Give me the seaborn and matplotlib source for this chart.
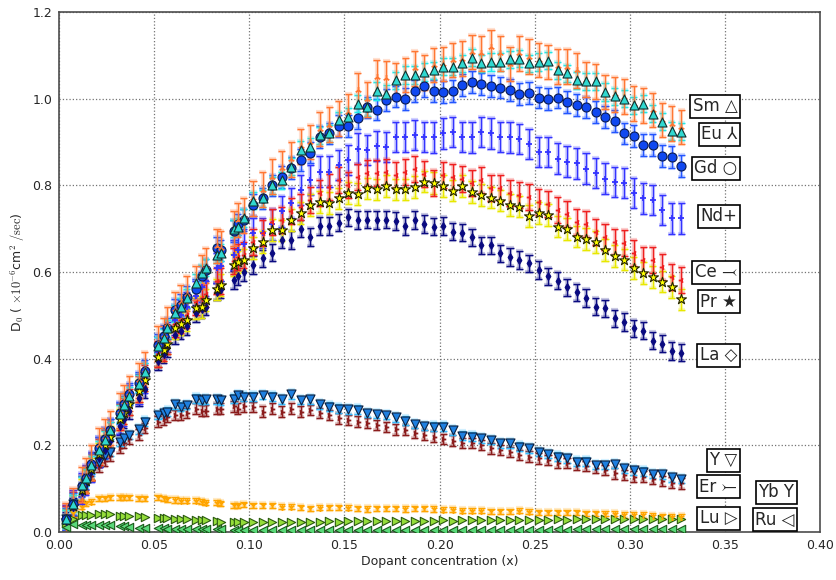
import matplotlib
matplotlib.use("Agg")
import matplotlib.pyplot as plt
import matplotlib.patheffects as pe
import seaborn as sns
import pandas as pd

# ---------------- data ----------------
x_conc = [0.0035, 0.0073, 0.012, 0.014, 0.017, 0.021, 0.024, 0.027, 0.032, 0.034,
          0.037, 0.042, 0.045, 0.052, 0.055, 0.057, 0.061, 0.064, 0.067, 0.072,
          0.075, 0.077, 0.083, 0.085, 0.092, 0.094, 0.097,
          0.102, 0.107, 0.112, 0.117, 0.122, 0.127, 0.132, 0.137, 0.142, 0.147,
          0.152, 0.157, 0.162, 0.167, 0.172, 0.177, 0.182, 0.187, 0.192, 0.197,
          0.202, 0.207, 0.212, 0.217, 0.222, 0.227, 0.232, 0.237, 0.242, 0.247,
          0.252, 0.257, 0.262, 0.267, 0.272, 0.277, 0.282, 0.287, 0.292, 0.297,
          0.302, 0.307, 0.312, 0.317, 0.322, 0.327]

sm = [0.030, 0.065, 0.108, 0.125, 0.155, 0.190, 0.212, 0.235, 0.272, 0.292, 0.315, 0.342, 0.370,
      0.430, 0.448, 0.470, 0.505, 0.520, 0.540, 0.575, 0.597, 0.610, 0.640, 0.645, 0.700, 0.705, 0.725,
      0.765, 0.770, 0.800, 0.812, 0.843, 0.882, 0.889, 0.916, 0.920, 0.950, 0.958, 0.989, 0.980, 1.018,
      1.011, 1.043, 1.055, 1.055, 1.062, 1.066, 1.074, 1.074, 1.082, 1.095, 1.082, 1.085, 1.085, 1.091,
      1.093, 1.082, 1.085, 1.088, 1.066, 1.059, 1.043, 1.040, 1.040, 1.016, 1.006, 1.000, 0.985, 0.989,
      0.966, 0.947, 0.926, 0.924]
eu = [0.028, 0.062, 0.110, 0.130, 0.160, 0.200, 0.220, 0.240, 0.280, 0.300, 0.320, 0.350, 0.375,
      0.435, 0.455, 0.480, 0.515, 0.530, 0.550, 0.575, 0.600, 0.615, 0.660, 0.655, 0.700, 0.720, 0.730,
      0.770, 0.790, 0.820, 0.840, 0.860, 0.890, 0.900, 0.930, 0.940, 0.954, 0.970, 1.020, 0.999, 1.050,
      1.047, 1.043, 1.055, 1.070, 1.060, 1.078, 1.080, 1.090, 1.093, 1.108, 1.105, 1.120, 1.105, 1.080,
      1.105, 1.097, 1.090, 1.085, 1.075, 1.074, 1.066, 1.044, 1.040, 1.016, 1.010, 1.005, 0.989, 0.985,
      0.974, 0.951, 0.943, 0.935]
gd = [0.030, 0.065, 0.105, 0.125, 0.158, 0.195, 0.215, 0.235, 0.275, 0.295, 0.318, 0.345, 0.372,
      0.432, 0.452, 0.470, 0.512, 0.524, 0.543, 0.560, 0.590, 0.605, 0.655, 0.650, 0.695, 0.710, 0.720,
      0.755, 0.770, 0.800, 0.820, 0.840, 0.858, 0.876, 0.912, 0.920, 0.937, 0.937, 0.955, 0.980, 0.975,
      0.998, 1.005, 1.000, 1.018, 1.030, 1.018, 1.015, 1.018, 1.032, 1.039, 1.034, 1.030, 1.026, 1.020,
      1.011, 1.014, 1.003, 0.999, 1.003, 0.992, 0.986, 0.980, 0.969, 0.958, 0.949, 0.920, 0.914, 0.893,
      0.893, 0.868, 0.865, 0.845]
nd = [0.028, 0.062, 0.100, 0.120, 0.150, 0.185, 0.205, 0.225, 0.262, 0.280, 0.305, 0.330, 0.355,
      0.415, 0.435, 0.450, 0.490, 0.500, 0.520, 0.545, 0.565, 0.580, 0.610, 0.615, 0.640, 0.650, 0.665,
      0.690, 0.690, 0.710, 0.740, 0.760, 0.789, 0.812, 0.832, 0.832, 0.847, 0.858, 0.885, 0.882, 0.891,
      0.888, 0.912, 0.912, 0.916, 0.912, 0.911, 0.920, 0.924, 0.912, 0.911, 0.924, 0.920, 0.912, 0.911,
      0.908, 0.895, 0.877, 0.877, 0.862, 0.855, 0.851, 0.839, 0.829, 0.816, 0.808, 0.805, 0.782, 0.770,
      0.766, 0.743, 0.724, 0.724]
ce = [0.030, 0.063, 0.100, 0.120, 0.150, 0.185, 0.205, 0.225, 0.265, 0.280, 0.300, 0.330, 0.355,
      0.410, 0.425, 0.440, 0.480, 0.490, 0.500, 0.530, 0.540, 0.550, 0.580, 0.580, 0.625, 0.635, 0.640,
      0.670, 0.690, 0.715, 0.720, 0.740, 0.751, 0.766, 0.782, 0.797, 0.812, 0.801, 0.820, 0.828, 0.828,
      0.830, 0.824, 0.832, 0.837, 0.827, 0.805, 0.824, 0.820, 0.816, 0.805, 0.812, 0.793, 0.793, 0.782,
      0.778, 0.774, 0.762, 0.758, 0.743, 0.735, 0.716, 0.712, 0.693, 0.682, 0.670, 0.666, 0.643, 0.628,
      0.628, 0.612, 0.589, 0.582]
pr = [0.028, 0.060, 0.098, 0.118, 0.145, 0.180, 0.200, 0.220, 0.260, 0.275, 0.295, 0.325, 0.350,
      0.405, 0.420, 0.435, 0.470, 0.480, 0.490, 0.516, 0.520, 0.535, 0.560, 0.570, 0.616, 0.624, 0.628,
      0.655, 0.670, 0.697, 0.696, 0.720, 0.737, 0.755, 0.762, 0.760, 0.770, 0.783, 0.780, 0.793, 0.791,
      0.799, 0.791, 0.791, 0.797, 0.809, 0.805, 0.799, 0.788, 0.799, 0.785, 0.778, 0.772, 0.765, 0.755,
      0.751, 0.730, 0.737, 0.732, 0.705, 0.699, 0.682, 0.676, 0.670, 0.651, 0.637, 0.629, 0.609, 0.598,
      0.588, 0.578, 0.565, 0.537]
la = [0.025, 0.058, 0.092, 0.110, 0.140, 0.170, 0.190, 0.210, 0.245, 0.260, 0.280, 0.310, 0.330,
      0.395, 0.410, 0.425, 0.455, 0.465, 0.475, 0.505, 0.515, 0.520, 0.555, 0.560, 0.582, 0.590, 0.600,
      0.616, 0.632, 0.645, 0.675, 0.674, 0.700, 0.681, 0.706, 0.706, 0.714, 0.726, 0.720, 0.721, 0.720,
      0.721, 0.718, 0.706, 0.720, 0.711, 0.705, 0.706, 0.693, 0.691, 0.680, 0.662, 0.662, 0.643, 0.635,
      0.628, 0.620, 0.605, 0.590, 0.580, 0.565, 0.553, 0.540, 0.520, 0.516, 0.493, 0.485, 0.470, 0.465,
      0.442, 0.435, 0.418, 0.414]
yy = [0.030, 0.065, 0.100, 0.115, 0.140, 0.162, 0.178, 0.185, 0.208, 0.216, 0.224, 0.237, 0.255,
      0.270, 0.274, 0.278, 0.295, 0.289, 0.293, 0.308, 0.305, 0.306, 0.306, 0.304, 0.308, 0.316, 0.312,
      0.312, 0.316, 0.312, 0.306, 0.318, 0.305, 0.306, 0.295, 0.289, 0.285, 0.283, 0.282, 0.275, 0.272,
      0.270, 0.265, 0.257, 0.249, 0.245, 0.243, 0.243, 0.235, 0.222, 0.220, 0.216, 0.212, 0.205, 0.205,
      0.197, 0.193, 0.185, 0.180, 0.174, 0.170, 0.162, 0.162, 0.155, 0.155, 0.157, 0.147, 0.142, 0.139,
      0.134, 0.133, 0.126, 0.122]
er = [0.028, 0.062, 0.095, 0.110, 0.130, 0.150, 0.165, 0.175, 0.195, 0.205, 0.215, 0.225, 0.240,
      0.255, 0.260, 0.265, 0.270, 0.270, 0.275, 0.285, 0.280, 0.280, 0.285, 0.285, 0.290, 0.285, 0.290,
      0.289, 0.278, 0.285, 0.278, 0.285, 0.278, 0.282, 0.274, 0.270, 0.262, 0.259, 0.255, 0.251, 0.247,
      0.243, 0.237, 0.235, 0.229, 0.224, 0.220, 0.214, 0.211, 0.206, 0.205, 0.201, 0.193, 0.189, 0.185,
      0.178, 0.174, 0.170, 0.166, 0.160, 0.159, 0.155, 0.152, 0.147, 0.143, 0.135, 0.132, 0.128, 0.128,
      0.122, 0.118, 0.114, 0.112]
yb = [0.030, 0.043, 0.058, 0.066, 0.070, 0.078, 0.078, 0.080, 0.080, 0.080, 0.080, 0.078, 0.078,
      0.080, 0.078, 0.075, 0.074, 0.072, 0.072, 0.072, 0.070, 0.068, 0.068, 0.066, 0.062, 0.062, 0.064,
      0.062, 0.062, 0.062, 0.058, 0.058, 0.057, 0.055, 0.056, 0.057, 0.057, 0.056, 0.055, 0.053, 0.055,
      0.055, 0.055, 0.053, 0.055, 0.055, 0.053, 0.051, 0.051, 0.049, 0.049, 0.049, 0.048, 0.048, 0.048,
      0.049, 0.047, 0.045, 0.045, 0.045, 0.045, 0.045, 0.043, 0.043, 0.042, 0.042, 0.039, 0.039, 0.039,
      0.037, 0.036, 0.035, 0.035]
lu = [0.020, 0.030, 0.040, 0.040, 0.039, 0.042, 0.041, 0.041, 0.038, 0.037, 0.038, 0.036, 0.035,
      0.033, 0.032, 0.032, 0.030, 0.030, 0.029, 0.028, 0.027, 0.028, 0.025, 0.024, 0.022, 0.022, 0.022,
      0.022, 0.023, 0.023, 0.023, 0.024, 0.024, 0.024, 0.024, 0.025, 0.024, 0.025, 0.025, 0.025, 0.025,
      0.026, 0.025, 0.026, 0.026, 0.026, 0.026, 0.027, 0.026, 0.027, 0.027, 0.027, 0.027, 0.028, 0.027,
      0.028, 0.028, 0.028, 0.028, 0.029, 0.028, 0.029, 0.029, 0.029, 0.029, 0.029, 0.029, 0.030, 0.029,
      0.030, 0.030, 0.030, 0.030]
ru = [0.012, 0.018, 0.016, 0.016, 0.016, 0.015, 0.015, 0.015, 0.013, 0.013, 0.012, 0.010, 0.010,
      0.009, 0.009, 0.008, 0.008, 0.008, 0.007, 0.007, 0.007, 0.006, 0.006, 0.006, 0.005, 0.005, 0.005,
      0.005, 0.005, 0.005, 0.005, 0.005, 0.005, 0.005, 0.005, 0.005, 0.005, 0.005, 0.005, 0.005, 0.005,
      0.005, 0.005, 0.005, 0.005, 0.005, 0.005, 0.005, 0.005, 0.005, 0.005, 0.005, 0.005, 0.005, 0.005,
      0.005, 0.005, 0.005, 0.005, 0.006, 0.005, 0.006, 0.006, 0.006, 0.006, 0.006, 0.006, 0.006, 0.006,
      0.006, 0.006, 0.006, 0.006]

# typical half-width of the error bars of each series
errors = {"Ru": 0.0, "Lu": 0.0, "Yb": 0.006, "Er": 0.012, "Y": 0.010, "La": 0.020,
          "Pr": 0.025, "Ce": 0.030, "Nd": 0.035, "Gd": 0.025, "Eu": 0.040, "Sm": 0.020}

values = {"Ru": ru, "Lu": lu, "Yb": yb, "Er": er, "Y": yy, "La": la, "Pr": pr,
          "Ce": ce, "Nd": nd, "Gd": gd, "Eu": eu, "Sm": sm}

labels = ["Sm \u25b3", "Eu \u2144", "Gd \u25cb", "Nd+", "Ce \u2919", "Pr \u2605", "La \u25c7",
          "Y \u25bd", "Er \u291a", "Lu \u25b7", "Yb Y", "Ru \u25c1"]
label_x = [0.3565, 0.3565, 0.3565, 0.3565, 0.3565, 0.3565, 0.3565,
           0.3565, 0.3565, 0.3565, 0.3865, 0.3865]
label_y = [0.983, 0.918, 0.840, 0.729, 0.600, 0.531, 0.408,
           0.166, 0.104, 0.032, 0.092, 0.028]

# ---------------- style ----------------
styles = {
    "Ru": dict(marker="<", face="#5ad97a", ecol="#5ad97a", size=6, edge="#1a5a1a"),
    "Lu": dict(marker=">", face="#94dc3a", ecol="#94dc3a", size=6, edge="#2a5a10"),
    "Yb": dict(marker="1", face="#ffa500", ecol="#ffa500", size=5, edge=None),
    "Er": dict(marker="4", face="#8b1c1c", ecol="#8b1c1c", size=4, edge=None),
    "Y":  dict(marker="v", face="#1e80e0", ecol="#33bbff", size=6.5, edge="#0a2040"),
    "La": dict(marker="d", face="#0a0a80", ecol="#0a0a80", size=4, edge="#0a0a80"),
    "Ce": dict(marker="3", face="#ee2020", ecol="#ee2020", size=4, edge=None),
    "Pr": dict(marker="*", face="#ffff00", ecol="#e8e800", size=7.5, edge="#222200"),
    "Nd": dict(marker="+", face="#3333ff", ecol="#3333ff", size=5, edge=None),
    "Gd": dict(marker="o", face="#1048f0", ecol="#2255ff", size=6.5, edge="#0a1a50"),
    "Eu": dict(marker="2", face="#ff7733", ecol="#ff7733", size=5, edge=None),
    "Sm": dict(marker="^", face="#30d8d0", ecol="#20e8e8", size=6.5, edge="#103030"),
}
bar_order = ["Ru", "Lu", "Yb", "Er", "Y", "La", "Nd", "Pr", "Ce", "Gd", "Sm", "Eu"]
mark_order = ["Ru", "Lu", "Yb", "Er", "Y", "La", "Nd", "Ce", "Pr", "Gd", "Eu", "Sm"]

sns.set_style("white")
plt.rcParams["font.family"] = ["DejaVu Sans", "STIXGeneral"]
plt.rcParams["mathtext.fontset"] = "cm"

fig, ax = plt.subplots(figsize=(8.36, 5.8), dpi=100)
fig.subplots_adjust(left=0.0706, right=0.981, top=0.979, bottom=0.0828)

for i, name in enumerate(bar_order):
    st = styles[name]
    err = errors[name]
    if err > 0:
        cont = ax.errorbar(x_conc, values[name], yerr=err, fmt="none", ecolor=st["ecol"],
                           elinewidth=1.0, capsize=2.6, capthick=1.0, zorder=2 + i * 0.01)
        halo = [pe.Stroke(linewidth=3.0, foreground=st["ecol"], alpha=0.22), pe.Normal()]
        for art in list(cont.lines[1]) + list(cont.lines[2]):
            art.set_path_effects(halo)

for i, name in enumerate(mark_order):
    st = styles[name]
    df = pd.DataFrame({"x": x_conc, "y": values[name]})
    filled = st["edge"] is not None
    if filled:
        sns.scatterplot(data=df, x="x", y="y", marker=st["marker"], s=st["size"] ** 2,
                        color=st["face"], edgecolor=st["edge"], linewidth=0.8,
                        ax=ax, zorder=3 + i * 0.01, legend=False)
    else:
        sns.scatterplot(data=df, x="x", y="y", marker=st["marker"], s=st["size"] ** 2,
                        color=st["face"], linewidth=1.3,
                        ax=ax, zorder=3 + i * 0.01, legend=False)

for txt, tx, ty in zip(labels, label_x, label_y):
    ax.text(tx, ty, txt, ha="right", va="center", fontsize=12, zorder=10,
            family=["DejaVu Sans", "STIXGeneral"],
            bbox=dict(boxstyle="square,pad=0.15", facecolor="white", edgecolor="black", linewidth=1.2))

ax.set_xlim(0, 0.40)
ax.set_ylim(0, 1.2)
ax.set_xticks([0.0, 0.05, 0.10, 0.15, 0.20, 0.25, 0.30, 0.35, 0.40])
ax.set_xticklabels(["0.00", "0.05", "0.10", "0.15", "0.20", "0.25", "0.30", "0.35", "0.40"])
ax.set_yticks([0.0, 0.2, 0.4, 0.6, 0.8, 1.0, 1.2])
ax.set_yticklabels(["0.0", "0.2", "0.4", "0.6", "0.8", "1.0", "1.2"])
ax.tick_params(labelsize=9, length=0, pad=5)
ax.grid(True, linestyle=":", color="0.45", linewidth=0.9)
ax.set_axisbelow(True)
for sp in ax.spines.values():
    sp.set_color("0.3")
    sp.set_linewidth(1.2)
ax.set_xlabel("Dopant concentration (x)", fontsize=9, labelpad=2)
ax.set_ylabel(r"D$_0$ ( $\times10^{-6}$cm$^2$ $/\mathrm{sec}$)", fontsize=9, labelpad=4)

fig.savefig("out.png", dpi=100)
